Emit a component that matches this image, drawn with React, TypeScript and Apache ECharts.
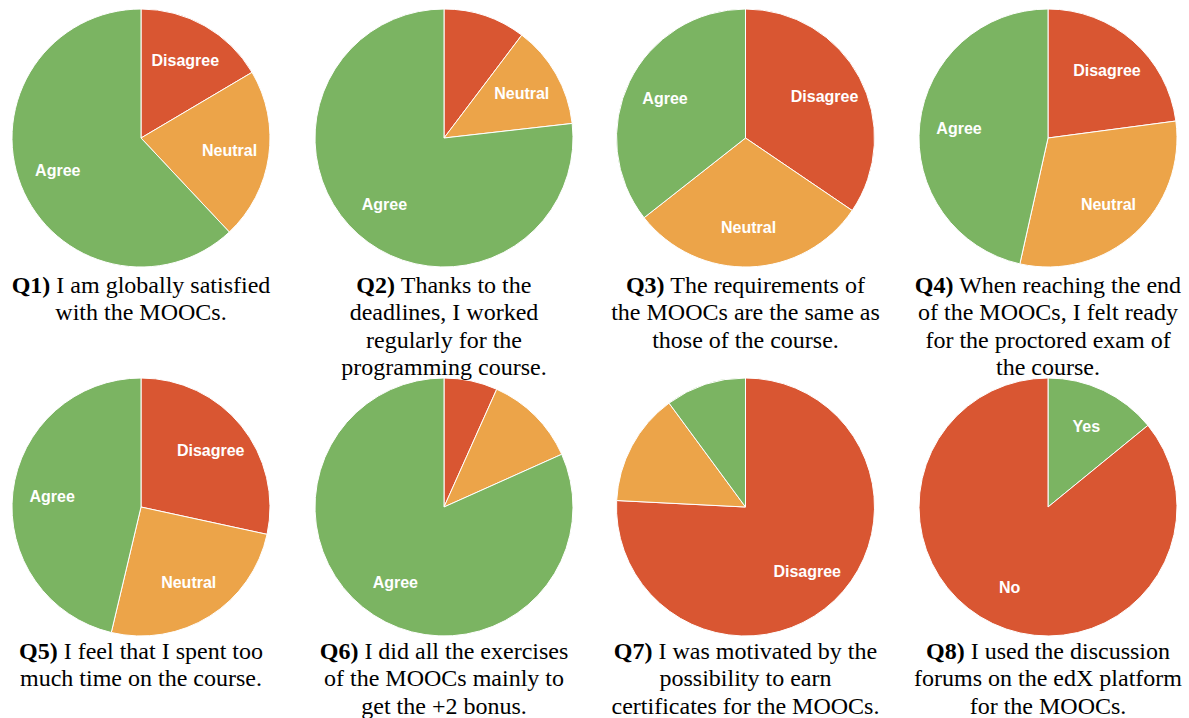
import React, { useEffect, useRef } from 'react';
import * as echarts from 'echarts';

// Categories (clockwise from 12 o'clock)
const likertCategories = ['Disagree', 'Neutral', 'Agree'];
const yesNoCategories = ['Yes', 'No'];

// Share of answers (%)
const q1Values = [16.5, 21.5, 62.0];
const q2Values = [10.3, 12.9, 76.8];
const q3Values = [34.5, 29.9, 35.6];
const q4Values = [22.9, 30.6, 46.5];
const q5Values = [28.4, 25.3, 46.3];
const q6Values = [6.7, 11.6, 81.7];
const q7Values = [75.8, 14.1, 10.1];
const q8Values = [14.1, 85.9];

// Labels shown inside the slices (others are hidden in the original)
const q1Shown = ['Disagree', 'Neutral', 'Agree'];
const q2Shown = ['Neutral', 'Agree'];
const q3Shown = ['Disagree', 'Neutral', 'Agree'];
const q4Shown = ['Disagree', 'Neutral', 'Agree'];
const q5Shown = ['Disagree', 'Neutral', 'Agree'];
const q6Shown = ['Agree'];
const q7Shown = ['Disagree'];
const q8Shown = ['Yes', 'No'];

const questionIds = ['Q1)', 'Q2)', 'Q3)', 'Q4)', 'Q5)', 'Q6)', 'Q7)', 'Q8)'];
const questionTexts = [
  'I am globally satisfied\nwith the MOOCs.',
  'Thanks to the\ndeadlines, I worked\nregularly for the\nprogramming course.',
  'The requirements of\nthe MOOCs are the same as\nthose of the course.',
  'When reaching the end\nof the MOOCs, I felt ready\nfor the proctored exam of\nthe course.',
  'I feel that I spent too\nmuch time on the course.',
  'I did all the exercises\nof the MOOCs mainly to\nget the +2 bonus.',
  'I was motivated by the\npossibility to earn\ncertificates for the MOOCs.',
  'I used the discussion\nforums on the edX platform\nfor the MOOCs.',
];

const COLORS: Record<string, string> = {
  Disagree: '#d95632',
  No: '#d95632',
  Neutral: '#eca449',
  Agree: '#7bb462',
  Yes: '#7bb462',
};

const colX = [141, 444, 745.5, 1048];
const rowY = [138, 507];
const R = 129;

export default function App() {
  const ref = useRef<HTMLDivElement>(null);

  useEffect(() => {
    if (!ref.current) return;
    const chart = echarts.init(ref.current, null, { renderer: 'svg' });

    const questions = [
      { cats: likertCategories, vals: q1Values, shown: q1Shown },
      { cats: likertCategories, vals: q2Values, shown: q2Shown },
      { cats: likertCategories, vals: q3Values, shown: q3Shown },
      { cats: likertCategories, vals: q4Values, shown: q4Shown },
      { cats: likertCategories, vals: q5Values, shown: q5Shown },
      { cats: likertCategories, vals: q6Values, shown: q6Shown },
      { cats: likertCategories, vals: q7Values, shown: q7Shown },
      { cats: yesNoCategories, vals: q8Values, shown: q8Shown },
    ];

    const series: any[] = [];
    const titles: any[] = [];

    questions.forEach((q, i) => {
      const cx = colX[i % 4];
      const cy = rowY[Math.floor(i / 4)];
      series.push({
        type: 'pie',
        center: [cx, cy],
        radius: [0, R],
        startAngle: 90,
        clockwise: true,
        silent: true,
        label: { show: false },
        labelLine: { show: false },
        emphasis: { disabled: true },
        itemStyle: { borderColor: '#ffffff', borderWidth: 1 },
        data: q.cats.map((c, k) => ({
          name: c,
          value: q.vals[k],
          itemStyle: { color: COLORS[c] },
        })),
      });
      series.push({
        type: 'pie',
        center: [cx, cy],
        radius: [44, R],
        startAngle: 90,
        clockwise: true,
        silent: true,
        z: 5,
        labelLine: { show: false },
        emphasis: { disabled: true },
        itemStyle: { color: 'rgba(0,0,0,0)', borderWidth: 0 },
        label: {
          show: true,
          position: 'inside',
          formatter: '{b}',
          color: '#ffffff',
          fontSize: 16,
          fontWeight: 'bold',
          fontFamily: '"Liberation Sans", Arial, Helvetica, sans-serif',
          overflow: 'none',
        },
        data: q.cats.map((c, k) => ({
          name: c,
          value: q.vals[k],
          label: { show: q.shown.indexOf(c) >= 0 },
        })),
      });
      titles.push({
        left: cx,
        top: i < 4 ? 271 : 637,
        textAlign: 'center',
        padding: 0,
        itemGap: 0,
        text: '{b|' + questionIds[i] + '} ' + questionTexts[i],
        textStyle: {
          fontFamily: '"Liberation Serif", "Times New Roman", Times, serif',
          fontSize: 24,
          fontWeight: 'normal',
          color: '#000000',
          lineHeight: 27.5,
          rich: {
            b: {
              fontFamily: '"Liberation Serif", "Times New Roman", Times, serif',
              fontSize: 24,
              fontWeight: 'bold',
              color: '#000000',
              lineHeight: 27.5,
            },
          },
        },
      });
    });

    chart.setOption({
      animation: false,
      backgroundColor: '#ffffff',
      title: titles,
      series,
    });

    return () => {
      chart.dispose();
    };
  }, []);

  return (
    <div
      ref={ref}
      style={{ position: 'fixed', left: 0, top: 0, width: 1189, height: 718, background: '#fff' }}
    />
  );
}
